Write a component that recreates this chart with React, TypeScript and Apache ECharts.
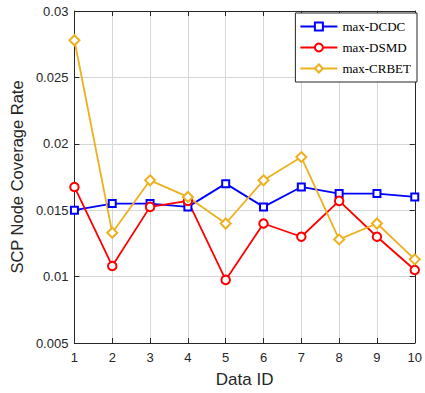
import React, { useEffect, useRef } from "react";
import * as echarts from "echarts";

const dataIds = [1, 2, 3, 4, 5, 6, 7, 8, 9, 10];
const dcdc = [0.015, 0.0155, 0.0155, 0.01525, 0.017, 0.01525, 0.01675, 0.01625, 0.01625, 0.016];
const dsmd = [0.01675, 0.0108, 0.01525, 0.0157, 0.00975, 0.014, 0.013, 0.0157, 0.013, 0.0105];
const crbet = [0.0278, 0.0133, 0.01725, 0.016, 0.014, 0.01725, 0.019, 0.0128, 0.014, 0.0113];
const seriesNames = ["max-DCDC", "max-DSMD", "max-CRBET"];

const axisColor = "#262626";
const sans = "Liberation Sans, Arial, sans-serif";

export default function App() {
  const ref = useRef<HTMLDivElement>(null);
  useEffect(() => {
    if (!ref.current) return;
    const chart = echarts.init(ref.current, undefined, { renderer: "svg" });
    const pair = (arr: number[]) => arr.map((v, i) => [dataIds[i], v]);
    const common = {
      type: "line",
      xAxisIndex: 0,
      yAxisIndex: 0,
      lineStyle: { width: 1.8 },
      itemStyle: { borderWidth: 1.6 },
    };
    chart.setOption({
      animation: false,
      backgroundColor: "#ffffff",
      grid: { left: 67, right: 4, top: 11, bottom: 44 },
      legend: {
        orient: "vertical",
        right: 8,
        top: 13,
        backgroundColor: "#ffffff",
        borderColor: axisColor,
        borderWidth: 1,
        borderRadius: 0,
        padding: [7, 6, 7, 4],
        itemGap: 8,
        itemWidth: 37,
        itemHeight: 10,
        textStyle: { fontFamily: "Liberation Serif, Times New Roman, serif", fontSize: 13, color: "#000" },
        data: seriesNames,
      },
      xAxis: [
        {
          type: "value",
          min: 1,
          max: 10,
          interval: 1,
          name: "Data ID",
          nameLocation: "middle",
          nameGap: 28,
          nameTextStyle: { fontFamily: sans, fontSize: 17, color: axisColor },
          axisLine: { show: true, onZero: false, lineStyle: { color: axisColor, width: 1 } },
          axisTick: { show: true, inside: true, length: 5, lineStyle: { color: axisColor } },
          axisLabel: { fontFamily: sans, fontSize: 13, color: axisColor, margin: 8 },
          splitLine: { show: true, lineStyle: { color: "#d6d6d6", width: 1 } },
        },
        {
          type: "value",
          position: "top",
          min: 1,
          max: 10,
          interval: 1,
          axisLine: { show: true, onZero: false, lineStyle: { color: axisColor, width: 1 } },
          axisTick: { show: true, inside: true, length: 5, lineStyle: { color: axisColor } },
          axisLabel: { show: false },
          splitLine: { show: false },
        },
      ],
      yAxis: [
        {
          type: "value",
          min: 0.005,
          max: 0.03,
          interval: 0.005,
          name: "SCP Node Coverage Rate",
          nameLocation: "middle",
          nameGap: 46,
          nameTextStyle: { fontFamily: sans, fontSize: 16.5, color: axisColor },
          axisLine: { show: true, onZero: false, lineStyle: { color: axisColor, width: 1 } },
          axisTick: { show: true, inside: true, length: 5, lineStyle: { color: axisColor } },
          axisLabel: {
            fontFamily: sans,
            fontSize: 13,
            color: axisColor,
            margin: 6,
            formatter: (v: number) => String(+v.toFixed(3)),
          },
          splitLine: { show: true, lineStyle: { color: "#d6d6d6", width: 1 } },
        },
        {
          type: "value",
          position: "right",
          min: 0.005,
          max: 0.03,
          interval: 0.005,
          axisLine: { show: true, onZero: false, lineStyle: { color: axisColor, width: 1 } },
          axisTick: { show: true, inside: true, length: 5, lineStyle: { color: axisColor } },
          axisLabel: { show: false },
          splitLine: { show: false },
        },
      ],
      series: [
        { ...common, name: seriesNames[0], data: pair(dcdc), symbol: "emptyRect", symbolSize: 7, color: "#0000ff" },
        { ...common, name: seriesNames[1], data: pair(dsmd), symbol: "emptyCircle", symbolSize: 8.5, color: "#ff0000" },
        { ...common, name: seriesNames[2], data: pair(crbet), symbol: "emptyDiamond", symbolSize: 10, color: "#edb120" },
      ],
    });
    return () => chart.dispose();
  }, []);
  return <div ref={ref} style={{ width: 425, height: 393, position: "absolute", left: 0, top: 0 }} />;
}
